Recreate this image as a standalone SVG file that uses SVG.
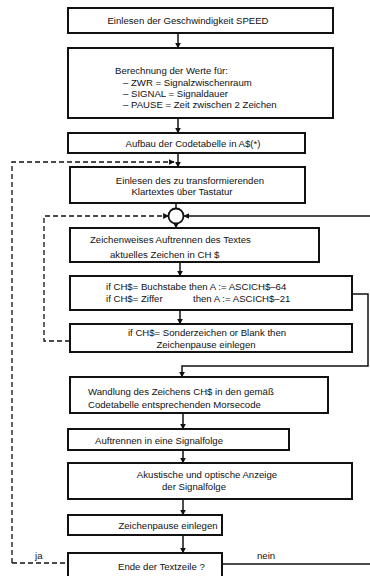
<svg xmlns="http://www.w3.org/2000/svg" width="370" height="576" viewBox="0 0 370 576">
<defs>
<marker id="ah" viewBox="0 0 10 10" refX="9" refY="5" markerWidth="6" markerHeight="6" markerUnits="userSpaceOnUse" orient="auto">
<path d="M0,0 L10,5 L0,10 z" fill="#111"/>
</marker>
</defs>
<style>
rect.b{fill:#fff;stroke:#111;stroke-width:2}
text{font-family:"Liberation Sans",Arial,sans-serif;font-size:9.6px;fill:#111}
.m{text-anchor:middle}
.c{fill:none;stroke:#111;stroke-width:1.5}
.d{fill:none;stroke:#111;stroke-width:1.3;stroke-dasharray:5,3}
</style>
<rect width="370" height="576" fill="#fff"/>
<g id="connectors">
<line class="c" x1="178" y1="33" x2="178" y2="48" marker-end="url(#ah)"/>
<line class="c" x1="178" y1="118" x2="178" y2="133" marker-end="url(#ah)"/>
<line class="c" x1="178" y1="153" x2="178" y2="167" marker-end="url(#ah)"/>
<polyline class="d" points="12,563 12,162 174,162" marker-end="url(#ah)"/>
<line class="c" x1="176" y1="203" x2="176" y2="208.5"/>
<polyline class="d" points="70,341 44,341 44,216 168.5,216" marker-end="url(#ah)"/>
<line class="c" x1="370" y1="216" x2="184" y2="216" marker-end="url(#ah)"/>
<line class="c" x1="176" y1="223.5" x2="176" y2="228" marker-end="url(#ah)"/>
<line class="c" x1="180" y1="262" x2="180" y2="276" marker-end="url(#ah)"/>
<line class="c" x1="180" y1="310" x2="180" y2="324" marker-end="url(#ah)"/>
<polyline class="c" points="352,294 368,294 368,366 182,366 182,377" marker-end="url(#ah)"/>
<line class="c" x1="183" y1="413" x2="183" y2="429" marker-end="url(#ah)"/>
<line class="c" x1="183" y1="450" x2="183" y2="463" marker-end="url(#ah)"/>
<line class="c" x1="183" y1="499" x2="183" y2="515" marker-end="url(#ah)"/>
<line class="c" x1="183" y1="535" x2="183" y2="553" marker-end="url(#ah)"/>
<line class="d" x1="12" y1="563" x2="68" y2="563"/>
<line class="c" x1="222" y1="564" x2="370" y2="564"/>
<text x="35" y="559">ja</text>
<text x="257" y="559">nein</text>
</g>
<g id="n1"><rect class="b" x="68" y="8" width="265" height="25"/><text class="m" x="188" y="24">Einlesen der Geschwindigkeit SPEED</text></g>
<g id="n2"><rect class="b" x="68" y="48" width="265" height="70"/>
<text x="115" y="74">Berechnung der Werte für:</text>
<text x="123" y="86">– ZWR = Signalzwischenraum</text>
<text x="123" y="97">– SIGNAL = Signaldauer</text>
<text x="123" y="108">– PAUSE = Zeit zwischen 2 Zeichen</text></g>
<g id="n3"><rect class="b" x="68" y="133" width="237" height="20"/><text class="m" x="193" y="147">Aufbau der Codetabelle in A$(*)</text></g>
<g id="n4"><rect class="b" x="70" y="167" width="235" height="36"/>
<text class="m" x="190" y="184">Einlesen des zu transformierenden</text>
<text class="m" x="182" y="195">Klartextes über Tastatur</text></g>
<g id="join"><circle cx="176" cy="216" r="7.5" fill="#fff" stroke="#111" stroke-width="1.8"/></g>
<g id="n5"><rect class="b" x="70" y="228" width="249" height="34"/>
<text x="90" y="243">Zeichenweises Auftrennen des Textes</text>
<text x="110" y="258">aktuelles Zeichen in CH $</text></g>
<g id="n6"><rect class="b" x="70" y="276" width="282" height="34"/>
<text x="106" y="290">if CH$= Buchstabe then A := ASCICH$–64</text>
<text x="106" y="302">if CH$= Ziffer</text><text x="193" y="302">then A := ASCICH$–21</text></g>
<g id="n7"><rect class="b" x="70" y="324" width="282" height="28"/>
<text class="m" x="207" y="336">if CH$= Sonderzeichen or Blank then</text>
<text class="m" x="206" y="348">Zeichenpause einlegen</text></g>
<g id="n8"><rect class="b" x="70" y="377" width="258" height="36"/>
<text x="88" y="395">Wandlung des Zeichens CH$ in den gemäß</text>
<text x="88" y="408">Codetabelle entsprechenden Morsecode</text></g>
<g id="n9"><rect class="b" x="68" y="429" width="221" height="21"/><text x="95" y="444">Auftrennen in eine Signalfolge</text></g>
<g id="n10"><rect class="b" x="68" y="463" width="284" height="36"/>
<text class="m" x="207" y="478">Akustische und optische Anzeige</text>
<text class="m" x="194" y="490">der Signalfolge</text></g>
<g id="n11"><rect class="b" x="68" y="515" width="154" height="20"/><text class="m" x="168" y="529">Zeichenpause einlegen</text></g>
<g id="n12"><rect class="b" x="68" y="553" width="154" height="30"/><text x="118" y="570">Ende der Textzeile ?</text></g>
</svg>
